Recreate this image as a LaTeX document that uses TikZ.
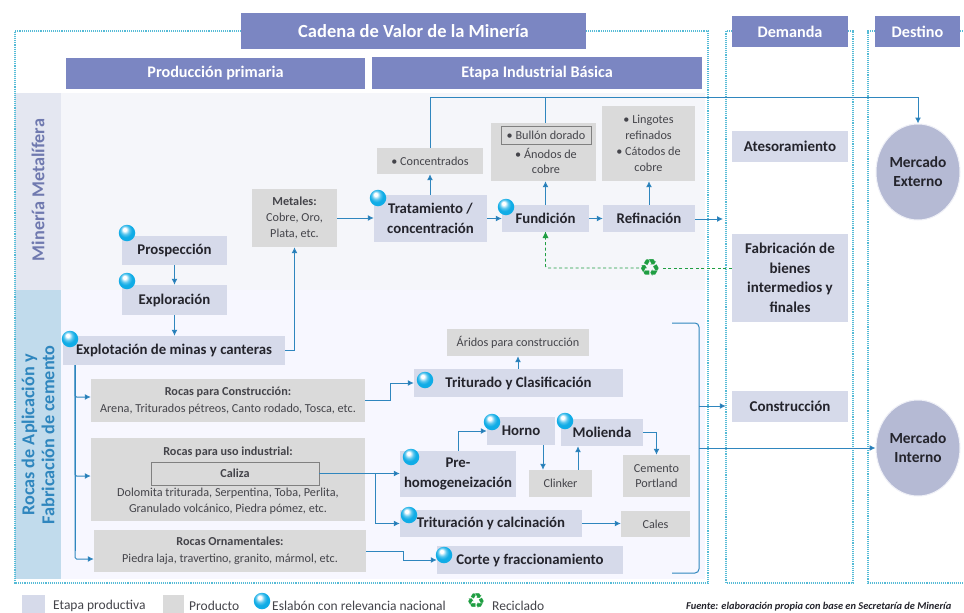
\documentclass[tikz,border=0pt]{standalone}
\usepackage{fontspec}
\setmainfont{Carlito}
\newfontfamily\symfont{DejaVu Sans}
\usetikzlibrary{shapes.geometric,arrows.meta,calc}
\definecolor{headc}{HTML}{7B86C2}
\definecolor{etapac}{HTML}{D6DAEA}
\definecolor{prodc}{HTML}{DADADA}
\definecolor{linec}{HTML}{2F86BE}
\definecolor{tipc}{HTML}{1F6FAE}
\definecolor{dotc}{HTML}{55BBD6}
\definecolor{bubc}{HTML}{10ACE6}
\definecolor{greenc}{HTML}{1F9E42}
\definecolor{darkt}{HTML}{24242C}
\definecolor{prodt}{HTML}{44444A}
\definecolor{mktc}{HTML}{B5BAD4}
\pgfdeclareradialshading{bubshade}{\pgfpoint{-8bp}{12bp}}{color(0bp)=(white); color(5bp)=(white); color(13bp)=(bubc!70!white); color(20bp)=(bubc); color(50bp)=(bubc)}
\tikzset{
  head/.style={fill=headc,text=white,font=\bfseries\fontsize{16.2}{18}\selectfont},
  etapa/.style={fill=etapac,text=darkt,font=\bfseries\fontsize{14.8}{19.5}\selectfont},
  demand/.style={fill=etapac,text=darkt,font=\bfseries\fontsize{15}{19.5}\selectfont},
  prod/.style={fill=prodc,text=prodt,font=\fontsize{12.2}{15.8}\selectfont},
  prodb/.style={fill=prodc,text=prodt,font=\fontsize{12.2}{17}\selectfont},
  inbox/.style={draw=black!50,line width=0.7pt,text=prodt},
  sidelab/.style={rotate=90,align=center,font=\bfseries\fontsize{18.2}{20}\selectfont},
  mkt/.style={ellipse,fill=mktc,draw=etapac!40!white,line width=1pt,minimum width=84pt,minimum height=96pt,inner sep=0pt,align=center,text=darkt,font=\bfseries\fontsize{15.4}{19}\selectfont},
  bubble/.style={circle,inner sep=0pt,minimum size=16.5pt,shading=bubshade},
  dotbox/.style={draw=dotc,line width=1.1pt,densely dotted},
  conn/.style={draw=linec,line width=1pt},
  arr/.style={conn,-{Latex[length=6pt,width=6pt,fill=tipc]}},
  recy/.style={draw=greenc,line width=0.9pt,dash pattern=on 3pt off 2.5pt},
  legt/.style={inner sep=0pt,anchor=west,text=prodt,font=\fontsize{13.5}{14}\selectfont},
  recyicon/.style={inner sep=0pt,text=greenc,font=\symfont\fontsize{24}{24}\selectfont},
}
\newcommand{\bx}[6]{%
  \pgfmathsetmacro\bcx{(#2+#4)/2}\pgfmathsetmacro\bcy{(#3+#5)/2}%
  \pgfmathsetmacro\bw{#4-#2}\pgfmathsetmacro\bh{#5-#3}%
  \node[#1,inner sep=0pt,align=center,minimum width=\bw pt,minimum height=\bh pt] (#6) at (\bcx,\bcy)}
\begin{document}
\begin{tikzpicture}[x=1pt,y=-1pt]
\useasboundingbox (0,0) rectangle (964,613);
\fill[white] (0,0) rectangle (964,613);
% bands
\fill[etapac!25!white] (61,93) rectangle (705,290);
\fill[blue!3!white] (61,290) rectangle (705,579);
\fill[etapac!65!white] (15,93) rectangle (61,290);
\fill[linec!30!white] (15,290) rectangle (61,579);
\node[sidelab,text=headc!90!black] (lmet) at (38,190) {Minería Metalífera};
\node[sidelab,text=linec] (lroc) at (38,435) {Rocas de Aplicación y\\Fabricación de cemento};
% dotted frames
\draw[dotbox] (241,31) -- (15,31) -- (15,583) -- (708,583) -- (708,31) -- (586,31);
\draw[dotbox] (732,31) -- (726,31) -- (726,583) -- (853,583) -- (853,31) -- (848,31);
\draw[dotbox] (875,31) -- (868,31) -- (868,583) -- (964,583);
\draw[dotbox] (960,31) -- (964,31);
% headers
\bx{head,font=\bfseries\fontsize{18.5}{20}\selectfont}{241}{13}{586}{49}{hcad} {Cadena de Valor de la Minería};
\bx{head}{732}{16}{848}{47}{hdem} {Demanda};
\bx{head}{875}{16}{960}{47}{hdes} {Destino};
\bx{head}{66}{58}{365}{89}{hpro} {Producción primaria};
\bx{head}{372}{57}{702}{89}{heta} {Etapa Industrial Básica};
% stages
\bx{etapa}{122}{236}{227}{265}{pros} {Prospección};
\bx{etapa}{122}{285}{227}{315}{expl} {Exploración};
\bx{etapa}{63}{336}{285}{365}{expt} {Explotación de minas y canteras};
\bx{etapa}{374}{195}{487}{242}{trat} {Tratamiento /\\concentración};
\bx{etapa}{502}{205}{589}{232}{fund} {Fundición};
\bx{etapa}{603}{205}{695}{232}{refi} {Refinación};
\bx{etapa}{414}{369}{623}{397}{trit} {Triturado y Clasificación};
\bx{etapa}{400}{451}{516}{497}{preh} {Pre-\\homogeneización};
\bx{etapa}{487}{417}{555}{445}{horn} {Horno};
\bx{etapa}{561}{419}{643}{446}{moli} {Molienda};
\bx{etapa}{400}{510}{582}{537}{tcal} {Trituración y calcinación};
\bx{etapa}{437}{546}{623}{574}{cort} {Corte y fraccionamiento};
% products
\bx{prod}{252}{189}{337}{247}{meta} {\textbf{Metales:}\\Cobre, Oro,\\Plata, etc.};
\bx{prod}{377}{148}{483}{174}{conc} {• Concentrados};
\bx{prod}{491}{123}{596}{181}{bulb} {};
\bx{prod}{602}{106}{695}{181}{ling} {• Lingotes\\refinados\\• Cátodos de\\cobre};
\bx{prod}{447}{329}{589}{356}{arid} {Áridos para construcción};
\bx{prodb}{91}{379}{365}{422}{rcon} {\textbf{Rocas para Construcción:}\\Arena, Triturados pétreos, Canto rodado, Tosca, etc.};
\bx{prodb}{91}{438}{365}{521}{rind} {};
\bx{prodb}{94}{530}{366}{572}{rorn} {\textbf{Rocas Ornamentales:}\\Piedra laja, travertino, granito, mármol, etc.};
\bx{prod}{529}{470}{592}{497}{clin} {Clinker};
\bx{prod}{623}{455}{690}{497}{ceme} {Cemento\\Portland};
\bx{prod}{621}{511}{690}{537}{cale} {Cales};
\bx{inbox,prod}{501}{126}{591}{144}{bull} {• Bullón dorado};
\node[prod,fill=none,inner sep=0pt,align=center] (anod) at (546,161) {• Ánodos de\\cobre};
\node[prodb,fill=none,inner sep=0pt] (rint) at (228,452) {\textbf{Rocas para uso industrial:}};
\bx{inbox,prodb}{151}{462}{319}{485}{cali} {\textbf{Caliza}};
\node[prodb,fill=none,inner sep=0pt,align=center,font=\fontsize{12.2}{16}\selectfont] (rdol) at (228,501) {Dolomita triturada, Serpentina, Toba, Perlita,\\Granulado volcánico, Piedra pómez, etc.};
% demand
\bx{demand}{732}{131}{848}{162}{ates} {Atesoramiento};
\bx{demand}{732}{234}{848}{322}{fabr} {Fabricación de\\bienes\\intermedios y\\finales};
\bx{demand}{732}{391}{848}{422}{cons} {Construcción};
\node[mkt] (mext) at (918,172) {Mercado\\Externo};
\node[mkt] (mint) at (918,448) {Mercado\\Interno};
% free coordinates
\coordinate (top) at (918,97);
\coordinate (k1) at (390,383);
\coordinate (k2) at (375,474);
\coordinate (k3) at (403,551);
\coordinate (tr) at (75,365);
\coordinate (rout) at (723,219);
\coordinate (brt) at (672,323);
\coordinate (brr) at (699,323);
\coordinate (brs) at (699,573);
\coordinate (brb) at (672,573);
\coordinate (bra) at (699,406);
\coordinate (brc) at (699,448);
% connectors
\draw[arr] (pros.south) -- (expl.north);
\draw[arr] (expl.south) -- (expl.south |- expt.north);
\draw[arr] (expt.east) -| (meta.south);
\draw[arr] (meta.east) -- (meta.east -| trat.west);
\draw[arr] (trat.north -| conc.south) -- (conc.south);
\draw[arr] (conc.north) -- (conc.north |- top) -- (top) -- (mext.north);
\draw[conn] (bulb.north -| fund.north) -- (fund.north |- top);
\draw[arr] (fund.north) -- (fund.north |- bulb.south);
\draw[arr] (refi.north) -- (refi.north |- ling.south);
\draw[arr] (trat.east |- fund.west) -- (fund.west);
\draw[arr] (fund.east) -- (refi.west);
\draw[arr] (refi.east |- rout) -- (rout);
\draw[conn] (tr) -- (tr |- rorn.west);
\draw[arr,rounded corners=1.5pt] (tr) |- ([yshift=3.5pt]rcon.west);
\draw[arr,rounded corners=1.5pt] (tr) |- ([yshift=3.5pt]rind.west);
\draw[arr,rounded corners=1.5pt] (tr) |- ([yshift=-8pt]rorn.west);
\draw[arr] (rcon.east) -| (k1) -- (trit.west);
\draw[arr] (cali.east) -- (cali.east -| preh.west);
\draw[arr] (k2) |- (tcal.west);
\draw[arr] (rorn.east) -- (k3) |- (cort.west);
\draw[arr] (preh.north) |- (horn.west);
\draw[arr] ([xshift=22pt]horn.south) -- ([xshift=-17.5pt]clin.north);
\draw[arr] ([xshift=17.5pt]clin.north) -- ([xshift=-24pt]moli.south);
\draw[arr] (moli.east) -| (ceme.north);
\draw[arr] (tcal.east) -- (tcal.east -| cale.west);
\draw[arr] (trit.north -| arid.south) -- (arid.south);
\draw[conn,rounded corners=4pt] (brt) -- (brr) -- (brs) -- (brb);
\draw[arr,shorten >=6pt] (bra) -- (bra -| cons.west);
\draw[arr] (brc) -- (mint.west);
% recycling
\node[recyicon] (reci) at (650,268) {♻};
\coordinate (rrt) at (fabr.west |- reci);
\draw[recy] (rrt) -- (reci.east);
\draw[recy,rounded corners=2pt] (reci.west) -| (fund.south);
\draw[draw=none,fill=greenc] (fund.south) ++(-3,6) -- (fund.south) -- ++(3,6) -- cycle;
% bubbles
\node[bubble] (b1) at (127,233) {};
\node[bubble] (b2) at (127,281) {};
\node[bubble] (b3) at (70,339) {};
\node[bubble] (b4) at (378,198) {};
\node[bubble] (b5) at (506,207) {};
\node[bubble] (b6) at (425,380) {};
\node[bubble] (b7) at (411,457) {};
\node[bubble] (b8) at (409,515) {};
\node[bubble] (b9) at (444,555) {};
\node[bubble] (b10) at (492,422) {};
\node[bubble] (b11) at (565,421) {};
% legend
\fill[etapac] (22,595) rectangle (45,613);
\node[legt] (l1) at (53,606) {Etapa productiva};
\fill[prodc] (163,595) rectangle (184,613);
\node[legt] (l2) at (189,606) {Producto};
\node[bubble] (lb) at (262,601) {};
\node[legt] (l3) at (272,606) {Eslabón con relevancia nacional};
\node[recyicon,font=\symfont\fontsize{21}{21}\selectfont] (lr) at (476,601) {♻};
\node[legt] (l4) at (492,606) {Reciclado};
\node[inner sep=0pt,anchor=west,text=darkt,font=\bfseries\itshape\fontsize{10.4}{11}\selectfont] (l5) at (686,607) {Fuente: elaboración propia con base en Secretaría de Minería};
\end{tikzpicture}
\end{document}
